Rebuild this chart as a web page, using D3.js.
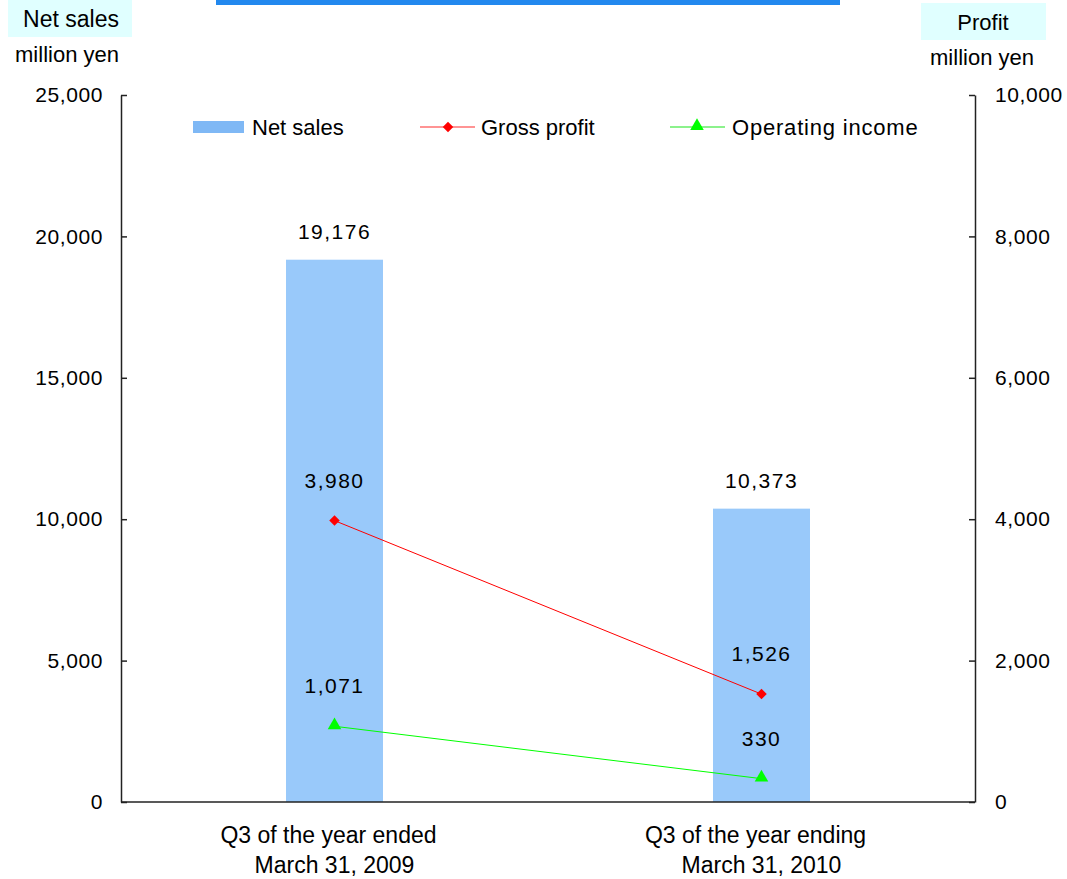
<!DOCTYPE html>
<html>
<head>
<meta charset="utf-8">
<script src="https://cdn.jsdelivr.net/npm/d3@7"></script>
<style>
  body { margin: 0; background: #fff; }
  svg text { font-family: "Liberation Sans", Arial, sans-serif; fill: #000; }
</style>
</head>
<body>
<svg id="chart" width="1067" height="879"></svg>
<script>
// Data
const categories = [["Q3 of the year ended", "March 31, 2009"], ["Q3 of the year ending", "March 31, 2010"]];
const netSales = [19176, 10373];
const grossProfit = [3980, 1526];
const operatingIncome = [1071, 330];
const leftTicks = [0, 5000, 10000, 15000, 20000, 25000];
const rightTicks = [0, 2000, 4000, 6000, 8000, 10000];

// Layout
const plot = { left: 121, right: 975, top: 95, bottom: 802 };
const fmt = d3.format(",");

const svg = d3.select("#chart");

const x = d3.scaleBand()
    .domain(d3.range(categories.length))
    .range([plot.left, plot.right])
    .paddingInner(0)
    .paddingOuter(0);

const yLeft = d3.scaleLinear().domain([0, 25000]).range([plot.bottom, plot.top]);
const yRight = d3.scaleLinear().domain([0, 10000]).range([plot.bottom, plot.top]);

const barWidth = 97;
const cx = i => x(i) + x.bandwidth() / 2;

// Title strip (cut off at top)
svg.append("rect")
    .attr("x", 216).attr("y", 0)
    .attr("width", 624).attr("height", 5)
    .attr("fill", "#2288EE");

// Axis title boxes
svg.append("rect").attr("x", 8).attr("y", 0).attr("width", 124).attr("height", 37).attr("fill", "#E0FFFF");
svg.append("text").attr("x", 71).attr("y", 27).attr("text-anchor", "middle")
    .style("font-size", "23px").text("Net sales");
svg.append("text").attr("x", 67).attr("y", 62).attr("text-anchor", "middle")
    .style("font-size", "22px").text("million yen");

svg.append("rect").attr("x", 921).attr("y", 3).attr("width", 125).attr("height", 37).attr("fill", "#E0FFFF");
svg.append("text").attr("x", 983).attr("y", 30).attr("text-anchor", "middle")
    .style("font-size", "22px").text("Profit");
svg.append("text").attr("x", 982).attr("y", 65).attr("text-anchor", "middle")
    .style("font-size", "22px").text("million yen");

// Bars
svg.selectAll(".bar")
    .data(netSales)
    .join("rect")
    .attr("class", "bar")
    .attr("x", (d, i) => cx(i) - barWidth / 2)
    .attr("y", d => yLeft(d))
    .attr("width", barWidth)
    .attr("height", d => plot.bottom - yLeft(d))
    .attr("fill", "#99C9FA");

// Axes
const leftAxis = svg.append("g")
    .attr("transform", `translate(${plot.left},0)`)
    .call(d3.axisLeft(yLeft).tickValues(leftTicks).tickFormat(fmt)
        .tickSizeInner(-6).tickSizeOuter(0).tickPadding(18));

const rightAxis = svg.append("g")
    .attr("transform", `translate(${plot.right},0)`)
    .call(d3.axisRight(yRight).tickValues(rightTicks).tickFormat(fmt)
        .tickSizeInner(-6).tickSizeOuter(0).tickPadding(20));

[leftAxis, rightAxis].forEach(g => {
    g.select(".domain").attr("stroke", "#222").attr("stroke-width", 1.5);
    g.selectAll(".tick line").attr("stroke", "#222").attr("stroke-width", 1.5);
    g.selectAll(".tick text")
        .style("font-size", "21px")
        .style("letter-spacing", "0.6px")
        .style("font-family", "'Liberation Sans', Arial, sans-serif")
        .attr("fill", "#000");
});

// Bottom axis line
svg.append("line")
    .attr("x1", plot.left).attr("x2", plot.right)
    .attr("y1", plot.bottom).attr("y2", plot.bottom)
    .attr("stroke", "#222").attr("stroke-width", 1.5);

// Category labels
categories.forEach((lines, i) => {
    lines.forEach((t, j) => {
        svg.append("text")
            .attr("x", cx(i) - (j === 0 ? 6 : 0)).attr("y", 843 + j * 30)
            .attr("text-anchor", "middle")
            .style("font-size", "23px")
            .text(t);
    });
});

// Lines
const line = d3.line().x((d, i) => cx(i)).y(d => yRight(d));

svg.append("path").datum(grossProfit)
    .attr("d", line).attr("fill", "none").attr("stroke", "#FF0000").attr("stroke-width", 1);
svg.append("path").datum(operatingIncome)
    .attr("d", line).attr("fill", "none").attr("stroke", "#00FF00").attr("stroke-width", 1);

const diamond = d3.symbol().type(d3.symbolDiamond2).size(70);
const triangle = d3.symbol().type(d3.symbolTriangle).size(80);

svg.selectAll(".gp-pt").data(grossProfit).join("path")
    .attr("class", "gp-pt")
    .attr("transform", (d, i) => `translate(${cx(i)},${yRight(d)})`)
    .attr("d", diamond).attr("fill", "#FF0000");

svg.selectAll(".oi-pt").data(operatingIncome).join("path")
    .attr("class", "oi-pt")
    .attr("transform", (d, i) => `translate(${cx(i)},${yRight(d) - 1})`)
    .attr("d", triangle).attr("fill", "#00FF00");

// Value labels
const labelStyle = sel => sel
    .attr("text-anchor", "middle")
    .style("font-size", "21px")
    .style("letter-spacing", "1.5px");

svg.selectAll(".ns-lbl").data(netSales).join("text")
    .attr("class", "ns-lbl")
    .attr("x", (d, i) => cx(i)).attr("y", d => yLeft(d) - 21)
    .call(labelStyle)
    .text(fmt);

svg.selectAll(".gp-lbl").data(grossProfit).join("text")
    .attr("class", "gp-lbl")
    .attr("x", (d, i) => cx(i)).attr("y", d => yRight(d) - 33)
    .call(labelStyle)
    .text(fmt);

svg.selectAll(".oi-lbl").data(operatingIncome).join("text")
    .attr("class", "oi-lbl")
    .attr("x", (d, i) => cx(i)).attr("y", d => yRight(d) - 33)
    .call(labelStyle)
    .text(fmt);

// Legend
const legend = svg.append("g").attr("transform", "translate(0,127)");
legend.append("rect").attr("x", 193).attr("y", -6).attr("width", 51).attr("height", 12).attr("fill", "#7FB8F5");
legend.append("text").attr("x", 252).attr("y", 8).style("font-size", "22px").text("Net sales");

legend.append("line").attr("x1", 420).attr("x2", 475).attr("y1", 0).attr("y2", 0)
    .attr("stroke", "#FF7070").attr("stroke-width", 1.5);
legend.append("path").attr("transform", "translate(448,0)").attr("d", diamond).attr("fill", "#FF0000");
legend.append("text").attr("x", 481).attr("y", 8).style("font-size", "22px").text("Gross profit");

legend.append("line").attr("x1", 670).attr("x2", 725).attr("y1", 0).attr("y2", 0)
    .attr("stroke", "#66EE66").attr("stroke-width", 1.5);
legend.append("path").attr("transform", "translate(697,-1)").attr("d", triangle).attr("fill", "#00FF00");
legend.append("text").attr("x", 732).attr("y", 8).style("font-size", "22px")
    .style("letter-spacing", "0.8px").text("Operating income");
</script>
</body>
</html>
